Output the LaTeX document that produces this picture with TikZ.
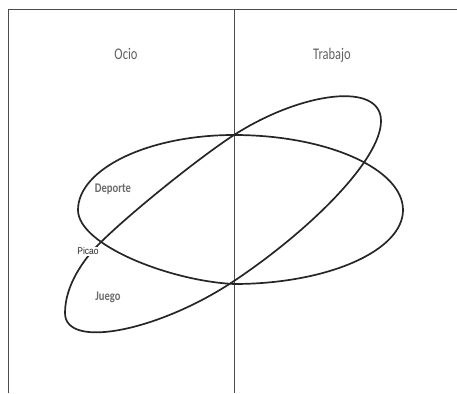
\documentclass[tikz,border=0pt]{standalone}
\usepackage{fontspec}
\setmainfont{Carlito}
\newfontfamily\arialfont{Liberation Sans}
\begin{document}
\begin{tikzpicture}[x=1pt,y=-1pt,
  frameline/.style={draw=black!70, line width=1pt},
  loopline/.style={draw=black!85, line width=1.7pt, line join=round},
  heading/.style={text=black!62, font=\fontsize{12.5}{14}\selectfont, inner sep=0pt},
  zonelabel/.style={text=black!58, font=\fontsize{10.6}{13}\selectfont\bfseries, inner sep=0pt},
  pointlabel/.style={text=black!85, font=\arialfont\fontsize{8.5}{10}\selectfont, fill=white, inner sep=0.5pt}]
\useasboundingbox (0,0) rectangle (457,393);
% frame
\coordinate (tl) at (8,10);
\coordinate (tr) at (457,10);
\coordinate (bl) at (8,393);
\coordinate (dt) at (234,10);
\coordinate (db) at (234,393);
\draw[frameline] (bl) -- (tl) -- (tr);
\draw[frameline] (dt) -- (db);
% horizontal loop
\coordinate (hT) at (234,135);
\coordinate (hR) at (403,210);
\coordinate (hB) at (234,284);
\coordinate (hL) at (78,210);
\draw[loopline] (hT) .. controls (327,135) and (403,169) .. (hR)
  .. controls (403,251) and (327,284) .. (hB)
  .. controls (170,281) and (78,245) .. (hL)
  .. controls (78,169) and (148,135) .. (hT) -- cycle;
% tilted loop
\coordinate (tB) at (65,313);
\coordinate (tP) at (99,244);
\coordinate (tM) at (234,135);
\coordinate (tA) at (381,121);
\coordinate (tN) at (234,281);
\draw[loopline] (tB) .. controls (65,285) and (84,259) .. (tP)
  .. controls (130,213) and (200,157) .. (tM)
  .. controls (301,92) and (381,81) .. (tA)
  .. controls (381,160) and (309,231) .. (tN)
  .. controls (159,331) and (65,350) .. (tB) -- cycle;
% labels
\node[heading] (ocio) at (126,54) {\scalebox{1}[1.3]{Ocio}};
\node[heading] (trabajo) at (332,55) {\scalebox{1}[1.3]{Trabajo}};
\node[zonelabel] (deporte) at (113,189) {\scalebox{1}[1.25]{Deporte}};
\node[zonelabel] (juego) at (108,297) {\scalebox{1}[1.25]{Juego}};
\node[pointlabel] (picao) at (88,251.5) {\scalebox{1}[1.15]{Picao}};
\end{tikzpicture}
\end{document}
